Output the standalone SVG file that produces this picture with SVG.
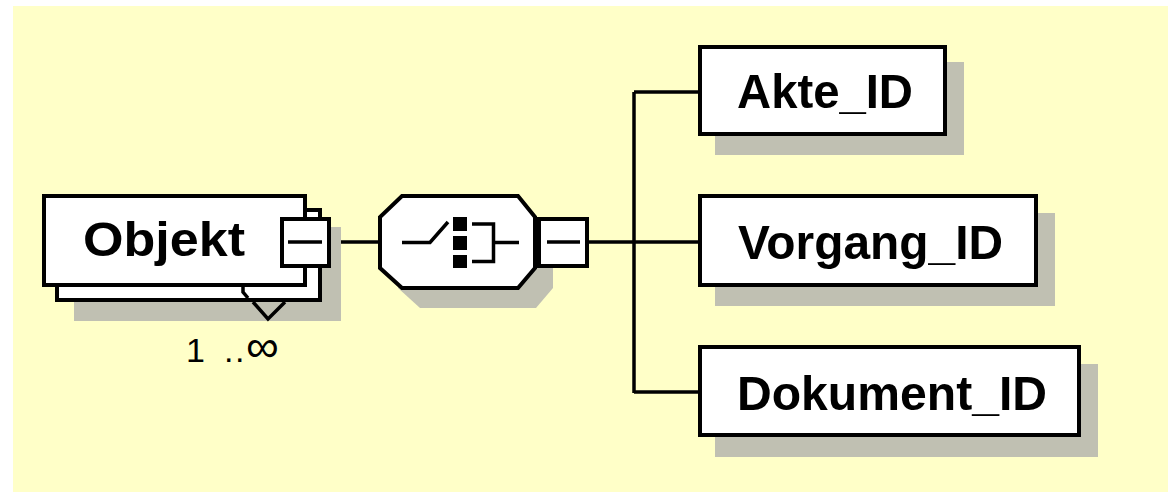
<svg xmlns="http://www.w3.org/2000/svg" width="1168" height="492" viewBox="0 0 1168 492">
<style>
.box{fill:#FFFFFF;stroke:#000000;stroke-width:4}
.shadow{fill:#C0C0B2;stroke:none}
.line{fill:none;stroke:#000000;stroke-width:3.5}
.lbl{font-family:"Liberation Sans",Arial,sans-serif;font-weight:bold;font-size:49px;fill:#000000}
.occ{font-family:"Liberation Sans",Arial,sans-serif;font-size:34px;fill:#000000}
</style>
<rect x="0" y="0" width="1168" height="492" fill="#FFFFFF"/>
<rect x="13" y="6" width="1155" height="486" fill="#FFFFC8"/>
<g id="connectors">
<line class="line" x1="331" y1="242" x2="380" y2="242"/>
<line class="line" x1="589" y1="242" x2="698" y2="242"/>
<line class="line" x1="634" y1="92" x2="634" y2="393"/>
<line class="line" x1="634" y1="92" x2="698" y2="92"/>
<line class="line" x1="634" y1="392" x2="698" y2="392"/>
</g>
<g id="node-objekt">
<rect class="shadow" x="74" y="227" width="267" height="94"/>
<rect class="box" x="57" y="210" width="263" height="90"/>
<rect class="box" x="44" y="196" width="261" height="89"/>
<polyline class="line" points="243,287 243,292 248,298"/>
<polyline class="line" points="253,302 268,319 285,302"/>
<text class="lbl" x="83" y="256" textLength="162" lengthAdjust="spacingAndGlyphs">Objekt</text>
<rect class="box" x="282" y="219" width="47" height="47"/>
<line class="line" x1="288" y1="242" x2="322" y2="242"/>
<text class="occ" x="186" y="362">1<tspan x="224">.</tspan><tspan x="235">.</tspan><tspan x="246" font-size="46">∞</tspan></text>
</g>
<g id="node-choice">
<polygon class="shadow" points="420,216 536,216 553,237 553,288 536,308 420,308 398,288 398,237"/>
<polygon class="box" points="402,196 518,196 535,217 535,268 518,288 402,288 380,268 380,217"/>
<polyline class="line" points="402,242.5 430,242.5 448,222"/>
<rect x="453" y="217" width="14" height="14" fill="#000000"/>
<rect x="453" y="236" width="14" height="14" fill="#000000"/>
<rect x="453" y="255" width="14" height="13" fill="#000000"/>
<polyline class="line" points="472,224 493.5,224 493.5,261.5 472,261.5"/>
<line class="line" x1="493.5" y1="242.5" x2="519" y2="242.5"/>
<rect class="box" x="539" y="219" width="48" height="47"/>
<line class="line" x1="547" y1="242" x2="580" y2="242"/>
</g>
<g id="node-akte">
<rect class="shadow" x="715" y="62" width="249" height="93"/>
<rect class="box" x="700" y="47" width="245" height="87"/>
<text class="lbl" x="737" y="108" textLength="176" lengthAdjust="spacingAndGlyphs">Akte_ID</text>
</g>
<g id="node-vorgang">
<rect class="shadow" x="715" y="213" width="340" height="93"/>
<rect class="box" x="700" y="196" width="336" height="89"/>
<text class="lbl" x="738" y="259" textLength="265" lengthAdjust="spacingAndGlyphs">Vorgang_ID</text>
</g>
<g id="node-dokument">
<rect class="shadow" x="715" y="364" width="383" height="93"/>
<rect class="box" x="700" y="347" width="379" height="88"/>
<text class="lbl" x="737" y="410" textLength="310" lengthAdjust="spacingAndGlyphs">Dokument_ID</text>
</g>
</svg>
